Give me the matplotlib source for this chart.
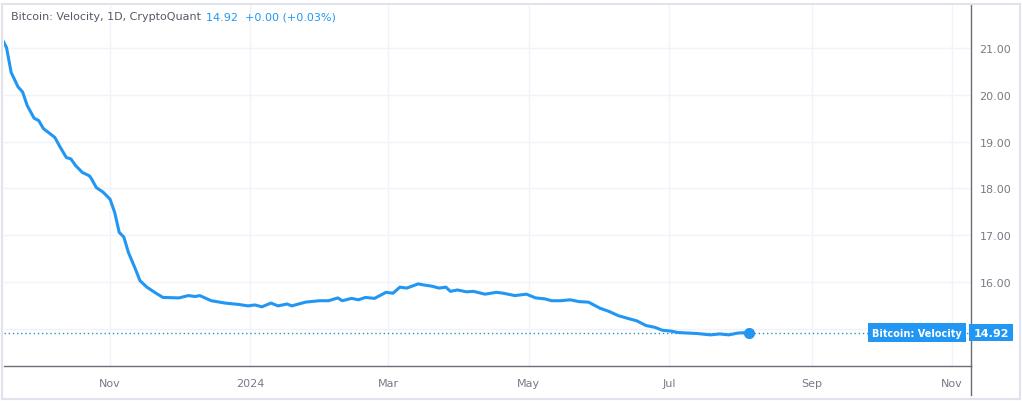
import matplotlib
matplotlib.use('Agg')
import matplotlib.pyplot as plt
import matplotlib.dates as mdates
from matplotlib.lines import Line2D
from matplotlib.patches import Rectangle
import matplotlib.transforms as mtransforms
from datetime import datetime

# ---- data ----
dates = [
    '2023-09-15', '2023-09-17', '2023-09-19', '2023-09-22', '2023-09-24', '2023-09-26',
    '2023-09-29', '2023-10-01', '2023-10-03', '2023-10-08', '2023-10-10', '2023-10-13',
    '2023-10-15', '2023-10-17', '2023-10-20', '2023-10-23', '2023-10-24', '2023-10-26',
    '2023-10-29', '2023-11-01', '2023-11-03', '2023-11-05', '2023-11-07', '2023-11-09',
    '2023-11-12', '2023-11-14', '2023-11-17', '2023-11-21', '2023-11-24', '2023-12-01',
    '2023-12-05', '2023-12-08', '2023-12-10', '2023-12-15', '2023-12-21', '2023-12-27',
    '2023-12-31', '2024-01-03', '2024-01-06', '2024-01-10', '2024-01-13', '2024-01-17',
    '2024-01-19', '2024-01-25', '2024-01-31', '2024-02-04', '2024-02-08', '2024-02-10',
    '2024-02-14', '2024-02-17', '2024-02-20', '2024-02-24', '2024-02-29', '2024-03-03',
    '2024-03-06', '2024-03-09', '2024-03-14', '2024-03-16', '2024-03-20', '2024-03-23',
    '2024-03-26', '2024-03-28', '2024-03-31', '2024-04-04', '2024-04-07', '2024-04-12',
    '2024-04-17', '2024-04-20', '2024-04-25', '2024-04-30', '2024-05-04', '2024-05-08',
    '2024-05-11', '2024-05-15', '2024-05-19', '2024-05-23', '2024-05-27', '2024-06-01',
    '2024-06-05', '2024-06-09', '2024-06-14', '2024-06-17', '2024-06-21', '2024-06-25',
    '2024-06-28', '2024-07-02', '2024-07-05', '2024-07-13', '2024-07-19', '2024-07-23',
    '2024-07-27', '2024-07-31', '2024-08-05',
]
velocity = [
    21.20, 21.01, 20.48, 20.17, 20.06, 19.77,
    19.50, 19.45, 19.28, 19.09, 18.91, 18.66,
    18.63, 18.49, 18.34, 18.27, 18.20, 18.02,
    17.92, 17.77, 17.49, 17.06, 16.96, 16.63,
    16.28, 16.03, 15.89, 15.76, 15.67, 15.66,
    15.71, 15.69, 15.71, 15.60, 15.55, 15.52,
    15.49, 15.51, 15.47, 15.55, 15.49, 15.53,
    15.49, 15.57, 15.60, 15.60, 15.66, 15.60,
    15.65, 15.62, 15.67, 15.65, 15.78, 15.76,
    15.89, 15.87, 15.96, 15.94, 15.91, 15.87,
    15.89, 15.80, 15.83, 15.79, 15.80, 15.74,
    15.78, 15.76, 15.71, 15.74, 15.66, 15.64,
    15.60, 15.60, 15.62, 15.58, 15.57, 15.44,
    15.37, 15.28, 15.21, 15.17, 15.07, 15.03,
    14.97, 14.95, 14.92, 14.90, 14.87, 14.89,
    14.87, 14.91, 14.92,
]
tick_dates = ['2023-11-01', '2024-01-01', '2024-03-01', '2024-05-01',
              '2024-07-01', '2024-09-01', '2024-11-01']
tick_labels = ['Nov', '2024', 'Mar', 'May', 'Jul', 'Sep', 'Nov']
y_ticks = [16, 17, 18, 19, 20, 21]
y_grid = [15, 16, 17, 18, 19, 20, 21]
last_value = 14.92
title_main = 'Bitcoin: Velocity, 1D, CryptoQuant'
title_value = '14.92  +0.00 (+0.03%)'
series_label = 'Bitcoin: Velocity'

# ---- styling ----
BLUE = '#2196f3'
GRID = '#f0f3fa'
TEXT = '#787b86'
AXLINE = '#6a6d78'

plt.rcParams['font.family'] = ['DejaVu Sans']

W, H = 1022, 402
fig = plt.figure(figsize=(W / 100, H / 100), dpi=100)
fig.patch.set_facecolor('white')

left_px, right_px, top_px, bottom_px = 4, 971, 6, 367
ax = fig.add_axes([left_px / W, 1 - bottom_px / H,
                   (right_px - left_px) / W, (bottom_px - top_px) / H])
ax_w = right_px - left_px

x = [mdates.date2num(datetime.strptime(d, '%Y-%m-%d')) for d in dates]
ax.plot(x, velocity, color=BLUE, lw=2.2, solid_joinstyle='round',
        solid_capstyle='round', zorder=3)
ax.plot([x[-1]], [velocity[-1]], 'o', color=BLUE, ms=7, zorder=4)

# price line
ax.axhline(last_value, color='#2b8fc6', lw=1.0, ls=(0, (1, 2)), zorder=2)

# limits
x0 = mdates.date2num(datetime(2023, 11, 1))
ax.set_xlim(x0 - 46.1, x0 + 374.3)
ax.set_ylim(14.205, 21.92)

# ticks
tx = [mdates.date2num(datetime.strptime(d, '%Y-%m-%d')) for d in tick_dates]
ax.set_xticks(tx)
ax.set_xticklabels(tick_labels)
ax.set_yticks(y_ticks)
ax.set_yticklabels([f'{v:.2f}' for v in y_ticks])
ax.yaxis.tick_right()
ax.tick_params(axis='both', length=0, colors=TEXT, labelsize=8)
ax.tick_params(axis='x', pad=9)
ax.tick_params(axis='y', pad=6)

# grid
for v in y_grid:
    ax.axhline(v, color=GRID, lw=1, zorder=0)
for t in tx:
    ax.axvline(t, color=GRID, lw=1, zorder=0)

for s in ['left', 'top']:
    ax.spines[s].set_visible(False)
ax.spines['right'].set_color(AXLINE)
ax.spines['bottom'].set_color(AXLINE)
ax.spines['right'].set_linewidth(1)
ax.spines['bottom'].set_linewidth(1)

# right axis line extends into time-scale area
fig.add_artist(Line2D([right_px / W, right_px / W], [1 - 396 / H, 1 - bottom_px / H],
                      color=AXLINE, lw=1))

# outer frame
fig.add_artist(Rectangle((2 / W, 2 / H), (W - 4) / W, (H - 7) / H,
                         transform=fig.transFigure, fill=False,
                         edgecolor='#e0e3eb', lw=1.5))

# title
fig.text(11 / W, 1 - 17 / H, title_main, color='#555a66', fontsize=8, va='center', ha='left')
fig.text(206 / W, 1 - 17 / H, title_value, color=BLUE, fontsize=8, va='center', ha='left')

# label boxes
trans = mtransforms.blended_transform_factory(ax.transAxes, ax.transData)
ax.text((962 - left_px) / ax_w, last_value, series_label, transform=trans,
        ha='right', va='center', color='white', fontsize=7, fontweight='bold',
        clip_on=False, zorder=6,
        bbox=dict(boxstyle='square,pad=0.45', fc=BLUE, ec='none'))
ax.text((991 - left_px) / ax_w, last_value, f'{last_value:.2f}', transform=trans,
        ha='center', va='center', color='white', fontsize=8, fontweight='bold',
        clip_on=False, zorder=6,
        bbox=dict(boxstyle='square,pad=0.35', fc=BLUE, ec='none'))

fig.savefig('out.png', dpi=100, facecolor='white')
